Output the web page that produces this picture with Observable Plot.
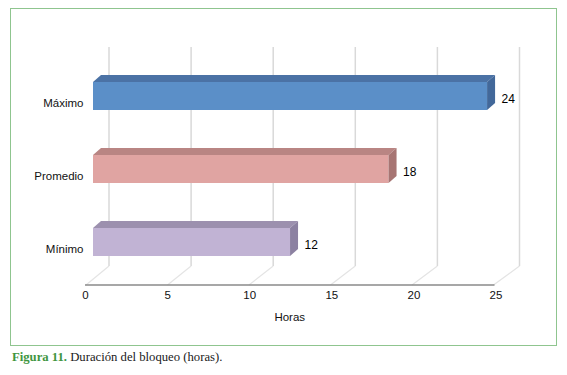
<!DOCTYPE html>
<html><head><meta charset="utf-8">
<script src="https://cdn.jsdelivr.net/npm/d3@7"></script>
<script src="https://cdn.jsdelivr.net/npm/@observablehq/plot@0.6"></script>
<style>
body{margin:0;width:567px;height:375px;position:relative;background:#fff;overflow:hidden;font-family:"Liberation Sans",Arial,sans-serif}
#frame{position:absolute;left:10px;top:8px;width:545px;height:336px;border:1.5px solid #8fc58f;}
#chart{position:absolute;left:0;top:0}
#caption{position:absolute;left:12px;top:350px;font-family:"Liberation Serif","Times New Roman",serif;font-size:12.7px;color:#1a1a1a;white-space:nowrap}
#caption .fig{color:#3f963f;font-weight:bold}
</style></head>
<body>
<div id="frame"></div>
<div id="chart"></div>
<div id="caption"><span class="fig">Figura 11.</span> Duración del bloqueo (horas).</div>
<script>
// ---- data ----
const categories = ["Máximo", "Promedio", "Mínimo"];
const values = [24, 18, 12];
const xTicks = [0, 5, 10, 15, 20, 25];
const xLabel = "Horas";

// ---- styles ----
const frontColors = ["#5b8fc8", "#e0a4a2", "#c1b3d4"];
const topColors = ["#4b72a5", "#b98583", "#9c90ae"];
const sideColors = ["#42689a", "#a77573", "#8c81a1"];
const depth = [8, -7];

const rows = categories.map((c, i) => ({cat: c, value: values[i], i}));

function bw(y) {
  return typeof y.bandwidth === "function" ? y.bandwidth() : (y.bandwidth ?? 28);
}

// back-wall gridlines, floor diagonals and front axis line
function grid3d(index, scales, vals, dims) {
  const x = scales.x;
  const g = d3.create("svg:g").attr("fill", "none");
  const yTop = dims.marginTop, yBack = dims.height - dims.marginBottom, yFront = yBack + 19;
  for (const t of xTicks) {
    const xb = x(t) + 16, xf = x(t) - 7 - 0.12 * t;
    g.append("line").attr("x1", xb).attr("x2", xb).attr("y1", yTop).attr("y2", yBack)
      .attr("stroke", "#d9d9d9").attr("stroke-width", 1.5);
    g.append("line").attr("x1", xb).attr("x2", xf).attr("y1", yBack).attr("y2", yFront)
      .attr("stroke", "#e4e4e4").attr("stroke-width", 1.2);
  }
  const x0 = x(xTicks[0]) - 7, x1 = x(xTicks[xTicks.length - 1]) - 7 - 0.12 * xTicks[xTicks.length - 1];
  g.append("line").attr("x1", x0 - 1).attr("x2", x1 + 1).attr("y1", yFront).attr("y2", yFront)
    .attr("stroke", "#8a8a8a").attr("stroke-width", 1.6);
  return g.node();
}

// top and side faces of the 3D bars
function faces(index, scales) {
  const x = scales.x, y = scales.y, h = bw(y);
  const [dx, dy] = depth;
  const g = d3.create("svg:g");
  for (const r of rows) {
    const x0 = x(0), xv = x(r.value), yt = y(r.cat), yb = yt + h;
    g.append("path")
      .attr("d", `M${x0},${yt}L${x0 + dx},${yt + dy}L${xv + dx},${yt + dy}L${xv},${yt}Z`)
      .attr("fill", topColors[r.i]);
    g.append("path")
      .attr("d", `M${xv},${yt}L${xv + dx},${yt + dy}L${xv + dx},${yb + dy}L${xv},${yb}Z`)
      .attr("fill", sideColors[r.i]);
  }
  return g.node();
}

const chart = Plot.plot({
  width: 567,
  height: 340,
  marginLeft: 93,
  marginRight: 63.5,
  marginTop: 47,
  marginBottom: 74,
  style: {fontFamily: "'Liberation Sans', Arial, sans-serif", fontSize: "11.5px", background: "transparent", color: "#111"},
  x: {domain: [0, 25], axis: null},
  y: {domain: categories, range: [59.5, 278.5], paddingInner: 0.616, paddingOuter: 0.308, align: 0.5, axis: null},
  color: {domain: categories, range: frontColors},
  marks: [
    grid3d,
    Plot.barX(rows, {x: "value", y: "cat", fill: "cat"}),
    faces,
    Plot.text(rows, {x: "value", y: "cat", text: d => String(d.value), textAnchor: "start", dx: 14, dy: 3, fill: "#000", fontSize: 12}),
    Plot.text(rows, {y: "cat", text: "cat", frameAnchor: "left", textAnchor: "end", dx: -10, dy: 7, fill: "#111"}),
    Plot.text(xTicks, {x: d => d, text: d => String(d), frameAnchor: "bottom", dx: -8, dy: 32, fill: "#111"}),
    Plot.text([xLabel], {text: d => d, frameAnchor: "bottom", dx: -9, dy: 54, fill: "#111"})
  ]
});
document.getElementById("chart").appendChild(chart);
</script>
</body></html>
